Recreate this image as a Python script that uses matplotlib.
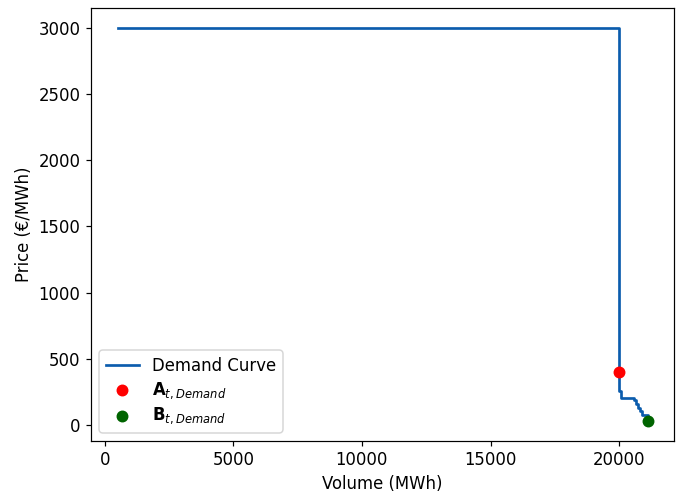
import matplotlib
matplotlib.use("Agg")
import matplotlib.pyplot as plt

# demand curve steps (volume MWh, price EUR/MWh)
volumes = [500, 20000, 20000, 20065, 20583, 20650, 20750, 20820, 20900, 21100]
prices = [3000, 400, 258, 208, 188, 158, 133, 108, 75, 30]

point_a = (20000, 400)
point_b = (21100, 30)

plt.rcParams['font.size'] = 11

dpi = 108
fig = plt.figure(figsize=(691 / dpi, 493 / dpi), dpi=dpi)
ax = fig.add_axes([0.1317, 0.1055, 0.9754 - 0.1317, 0.9838 - 0.1055])

ax.step(volumes, prices, where='post', color='#0b5cad', linewidth=1.8, label='Demand Curve')
ax.scatter([point_a[0]], [point_a[1]], color='red', s=48, zorder=3, label=r'$\mathbf{A}_{t,Demand}$')
ax.scatter([point_b[0]], [point_b[1]], color='darkgreen', s=48, zorder=3, label=r'$\mathbf{B}_{t,Demand}$')

ax.set_xlabel('Volume (MWh)')
ax.set_ylabel('Price (€/MWh)')
ax.legend(loc='lower left', fontsize=11, labelspacing=0.3)

fig.savefig('out.png', dpi=dpi)
